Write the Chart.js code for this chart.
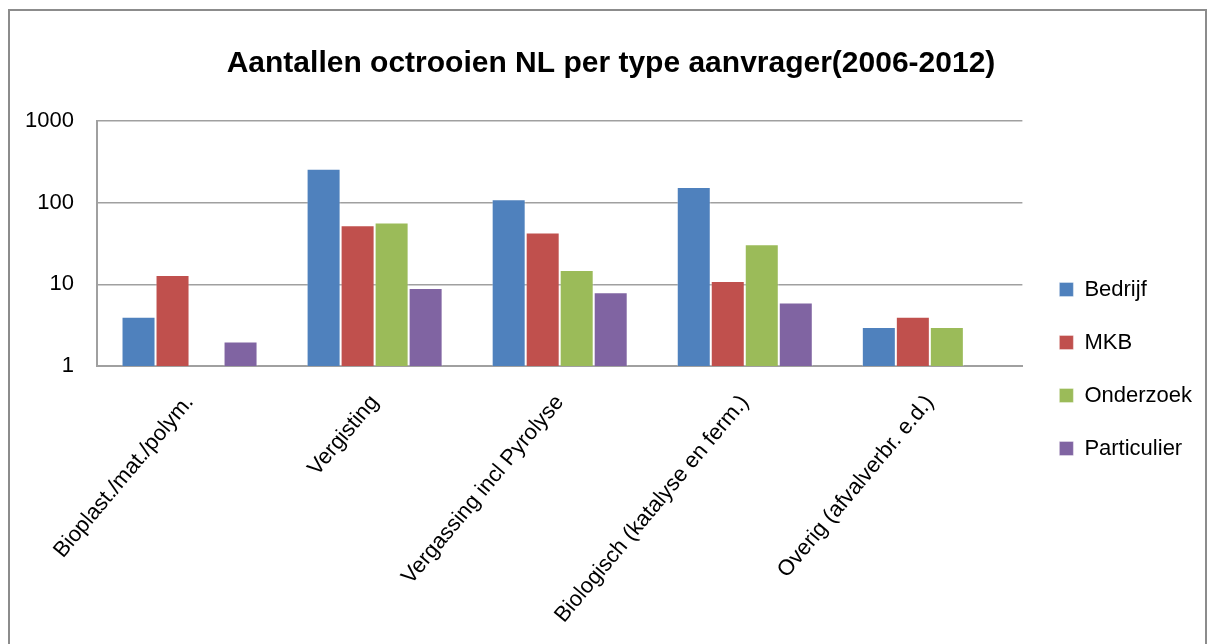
<!DOCTYPE html>
<html><head><meta charset="utf-8">
<script src="https://cdn.jsdelivr.net/npm/chart.js@4.4.1/dist/chart.umd.min.js"></script>
<style>
html,body{margin:0;padding:0;background:#fff;}
#wrap{position:absolute;left:8px;top:9px;width:1199px;height:640px;border-left:2px solid #8c8c8c;border-top:2px solid #8c8c8c;border-right:2px solid #8c8c8c;box-sizing:border-box;}
canvas{display:block;}
</style></head>
<body>
<div id="wrap"><canvas id="c"></canvas></div>
<script>
const categories = ["Bioplast./mat./polym.", "Vergisting", "Vergassing incl Pyrolyse", "Biologisch (katalyse en ferm.)", "Overig (afvalverbr. e.d.)"];
const seriesNames = ["Bedrijf", "MKB", "Onderzoek", "Particulier"];
const bedrijf = [4, 260, 110, 155, 3];
const mkb = [13, 53, 43, 11, 4];
const onderzoek = [null, 57, 15, 31, 3];
const particulier = [2, 9, 8, 6, null];
const yTicks = [1, 10, 100, 1000];
const colors = ["#4F81BD", "#C0504D", "#9BBB59", "#8064A2"];
const values = [bedrijf, mkb, onderzoek, particulier];

const sans = "'Liberation Sans', Arial, sans-serif";

const shiftLegend = {
  id: 'shiftLegend',
  afterLayout(chart) {
    const l = chart.legend;
    if (!l) return;
    const dx = 6, dy = 39;
    l.left += dx; l.right += dx; l.top += dy; l.bottom += dy;
  }
};

new Chart(document.getElementById('c'), {
  type: 'bar',
  data: {
    labels: categories,
    datasets: seriesNames.map((n, i) => ({
      label: n,
      data: values[i],
      backgroundColor: colors[i],
      borderColor: 'rgba(255,255,255,0.35)',
      borderWidth: 1,
      categoryPercentage: 0.735,
      barPercentage: 1.0
    }))
  },
  plugins: [shiftLegend],
  options: {
    responsive: true,
    maintainAspectRatio: false,
    animation: false,
    layout: { padding: { left: 16, right: 9, top: 0, bottom: 0 } },
    plugins: {
      title: {
        display: true,
        text: "Aantallen octrooien NL per type aanvrager(2006-2012)",
        color: '#000',
        font: { family: sans, size: 30, weight: 'bold' },
        padding: { top: 35, bottom: 39 }
      },
      legend: {
        position: 'right',
        labels: {
          color: '#000',
          font: { family: sans, size: 22 },
          boxWidth: 14, boxHeight: 14,
          padding: 31
        }
      },
      tooltip: { enabled: false }
    },
    scales: {
      x: {
        grid: { display: false, drawTicks: false },
        border: { display: true, color: '#a0a0a0', width: 2 },
        ticks: {
          color: '#000',
          font: { family: sans, size: 22 },
          minRotation: 50, maxRotation: 50,
          autoSkip: false,
          padding: 24
        },
        afterFit: s => { s.height = 283; s.paddingLeft = 0; s.paddingRight = 0; }
      },
      y: {
        type: 'logarithmic',
        min: 1, max: 1000,
        afterBuildTicks: s => { s.ticks = yTicks.map(v => ({ value: v })); },
        grid: { color: '#a0a0a0', lineWidth: 1.5, drawTicks: false },
        border: { display: true, color: '#a0a0a0', width: 2 },
        ticks: {
          color: '#000',
          font: { family: sans, size: 22 },
          padding: 23,
          callback: v => String(v)
        },
        afterFit: s => { s.width = 71; }
      }
    }
  }
});
</script>
</body></html>
